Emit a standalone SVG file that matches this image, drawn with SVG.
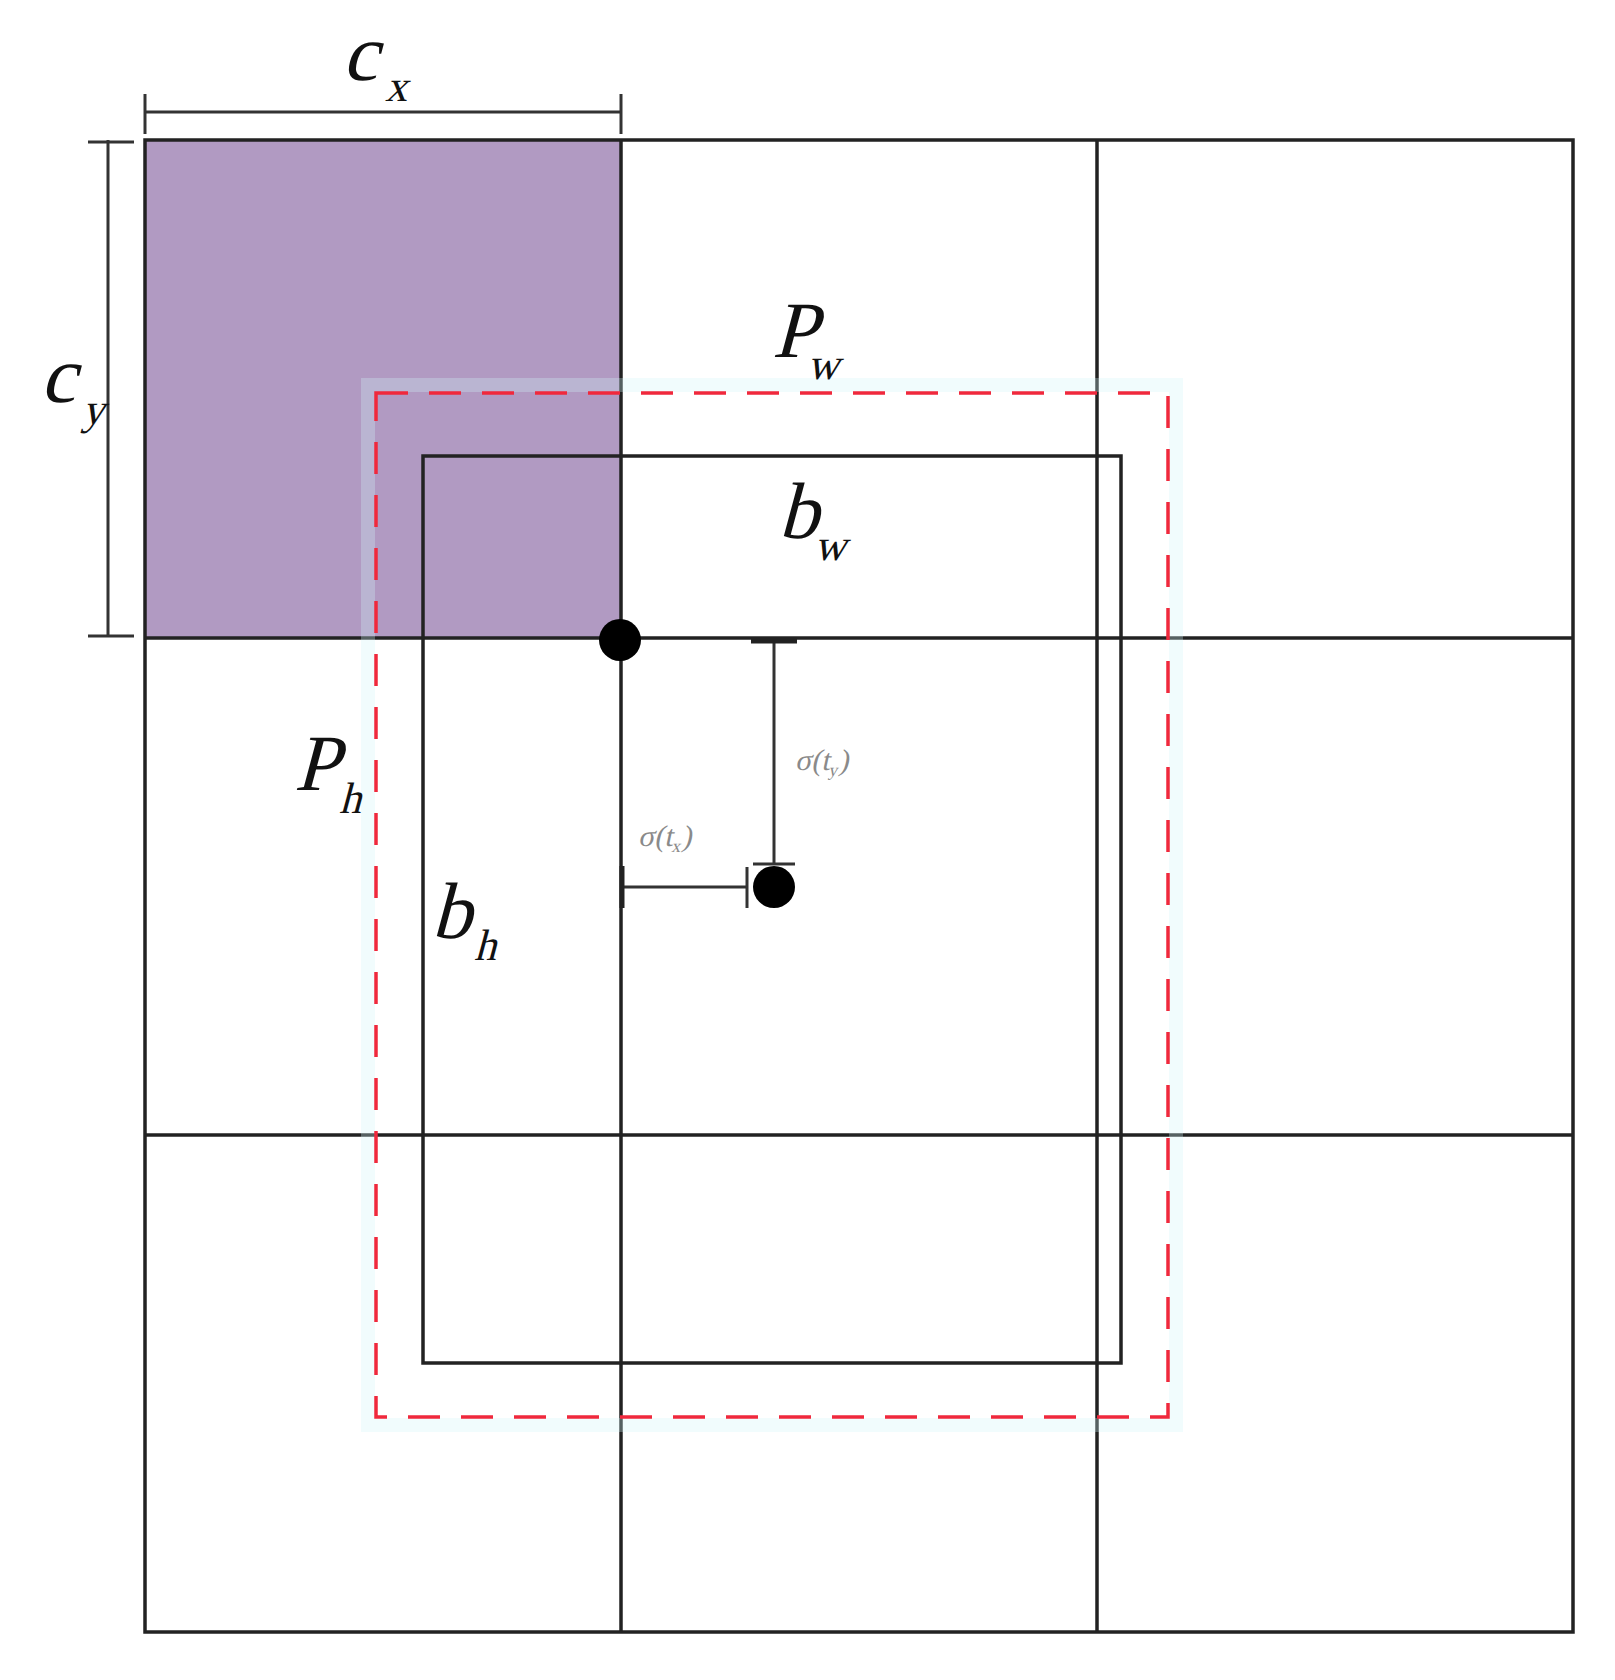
<svg xmlns="http://www.w3.org/2000/svg" width="1615" height="1680" viewBox="0 0 1615 1680">
<style>
.ln{stroke:#222;stroke-width:3.5;fill:none}
.thin{stroke:#333;stroke-width:3;fill:none}
.dash{stroke:#f0283c;stroke-width:3.5;fill:none;stroke-dasharray:32 21}
.halo{stroke:#d2f6f8;stroke-width:14;fill:none;opacity:0.3}
.lbl{font-family:"Liberation Serif","DejaVu Serif",serif;fill:#111}
.big{font-size:80px}
.sub{font-size:44px}
.sm{font-family:"Liberation Serif","DejaVu Serif",serif;fill:#8a8a8a;font-size:30px}
.sms{font-size:18px}
</style>
<rect x="0" y="0" width="1615" height="1680" fill="#fff"/>
<g id="cell-highlight">
<rect x="145" y="140" width="476" height="498" fill="#b19ac2"/>
</g>
<g id="grid">
<rect x="145" y="140" width="1428" height="1492" class="ln" stroke-width="4"/>
<line x1="621" y1="140" x2="621" y2="1632" class="ln"/>
<line x1="1097" y1="140" x2="1097" y2="1632" class="ln"/>
<line x1="145" y1="638" x2="1573" y2="638" class="ln"/>
<line x1="145" y1="1135" x2="1573" y2="1135" class="ln"/>
</g>
<g id="prior-box">
<rect x="368" y="385" width="808" height="1040" class="halo"/>
<rect x="376" y="393" width="792" height="1024" class="dash"/>
</g>
<g id="bounding-box">
<rect x="423" y="456" width="698" height="907" class="ln" stroke-width="3"/>
</g>
<g id="connectors">
<line x1="145" y1="112" x2="621" y2="112" class="thin"/>
<line x1="145" y1="94" x2="145" y2="134" class="thin"/>
<line x1="621" y1="94" x2="621" y2="134" class="thin"/>
<line x1="108" y1="140" x2="108" y2="637" class="thin"/>
<line x1="88" y1="142" x2="134" y2="142" class="thin"/>
<line x1="88" y1="636" x2="134" y2="636" class="thin"/>
<line x1="774" y1="641" x2="774" y2="864" class="thin"/>
<line x1="751" y1="641" x2="797" y2="641" stroke="#222" stroke-width="5"/>
<line x1="753" y1="864" x2="795" y2="864" class="thin"/>
<line x1="622" y1="887" x2="747" y2="887" class="thin"/>
<line x1="622" y1="866" x2="622" y2="908" stroke="#222" stroke-width="5"/>
<line x1="747" y1="867" x2="747" y2="908" class="thin"/>
</g>
<g id="grid-corner">
<circle cx="620" cy="640" r="21" fill="#000"/>
</g>
<g id="box-center">
<circle cx="774" cy="887" r="21" fill="#000"/>
</g>
<g id="labels">
<text class="lbl big" transform="translate(342,80) skewX(-15)">c</text>
<text class="lbl sub" transform="translate(385,101) skewX(-15)">x</text>
<text class="lbl big" transform="translate(40,402) skewX(-15)">c</text>
<text class="lbl sub" transform="translate(82,424) skewX(-15)">y</text>
<text class="lbl big" transform="translate(772,357) skewX(-15)">P</text>
<text class="lbl sub" transform="translate(807,379) skewX(-15)">w</text>
<text class="lbl big" transform="translate(778,538) skewX(-15)">b</text>
<text class="lbl sub" transform="translate(814,560) skewX(-15)">w</text>
<text class="lbl big" transform="translate(294,790) skewX(-15)">P</text>
<text class="lbl sub" transform="translate(339,813) skewX(-15)">h</text>
<text class="lbl big" transform="translate(431,938) skewX(-15)">b</text>
<text class="lbl sub" transform="translate(474,960) skewX(-15)">h</text>
<text class="sm" transform="translate(795,770) skewX(-12)">σ(t<tspan class="sms" dy="6">y</tspan><tspan dy="-6">)</tspan></text>
<text class="sm" transform="translate(638,846) skewX(-12)">σ(t<tspan class="sms" dy="6">x</tspan><tspan dy="-6">)</tspan></text>
</g>
</svg>
